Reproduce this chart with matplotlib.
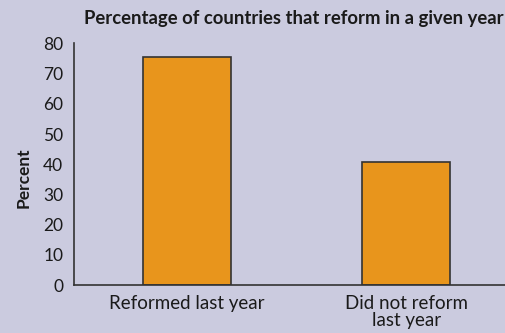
import matplotlib.pyplot as plt

# data
categories = ['Reformed last year', 'Did not reform\nlast year']
percent = [75.4, 40.7]
yticks = [0, 10, 20, 30, 40, 50, 60, 70, 80]

bg = '#cbcbdf'
bar_color = '#e8951c'

plt.rcParams['font.family'] = ['Lato', 'DejaVu Sans']

fig = plt.figure(figsize=(5.05, 3.33), dpi=100, facecolor=bg)
ax = fig.add_axes([0.1475, 0.1441, 0.8525, 0.7253], facecolor=bg)

ax.bar(range(len(categories)), percent, width=0.4, color=bar_color,
       edgecolor='#333333', linewidth=1.2)

ax.set_xlim(-0.51, 1.449)
ax.set_ylim(0, 80)
ax.set_yticks(yticks)
ax.set_xticks(range(len(categories)))
ax.set_xticklabels(categories, fontsize=13.5, color='#1a1a1a', linespacing=1.05)
ax.tick_params(axis='y', length=0, labelsize=12.5, labelcolor='#1a1a1a', pad=8)
ax.tick_params(axis='x', length=0, pad=7)

for s in ['top', 'right']:
    ax.spines[s].set_visible(False)
for s in ['left', 'bottom']:
    ax.spines[s].set_color('#333333')
    ax.spines[s].set_linewidth(1.2)

fig.text(0.581, 0.945, 'Percentage of countries that reform in a given year',
         ha='center', va='center', fontsize=13.3, fontweight='bold', color='#1a1a1a')
fig.text(0.046, 0.465, 'Percent', rotation=90, ha='center', va='center',
         fontsize=12.5, fontweight='bold', color='#1a1a1a')

fig.savefig('out.png', dpi=100, facecolor=bg)
